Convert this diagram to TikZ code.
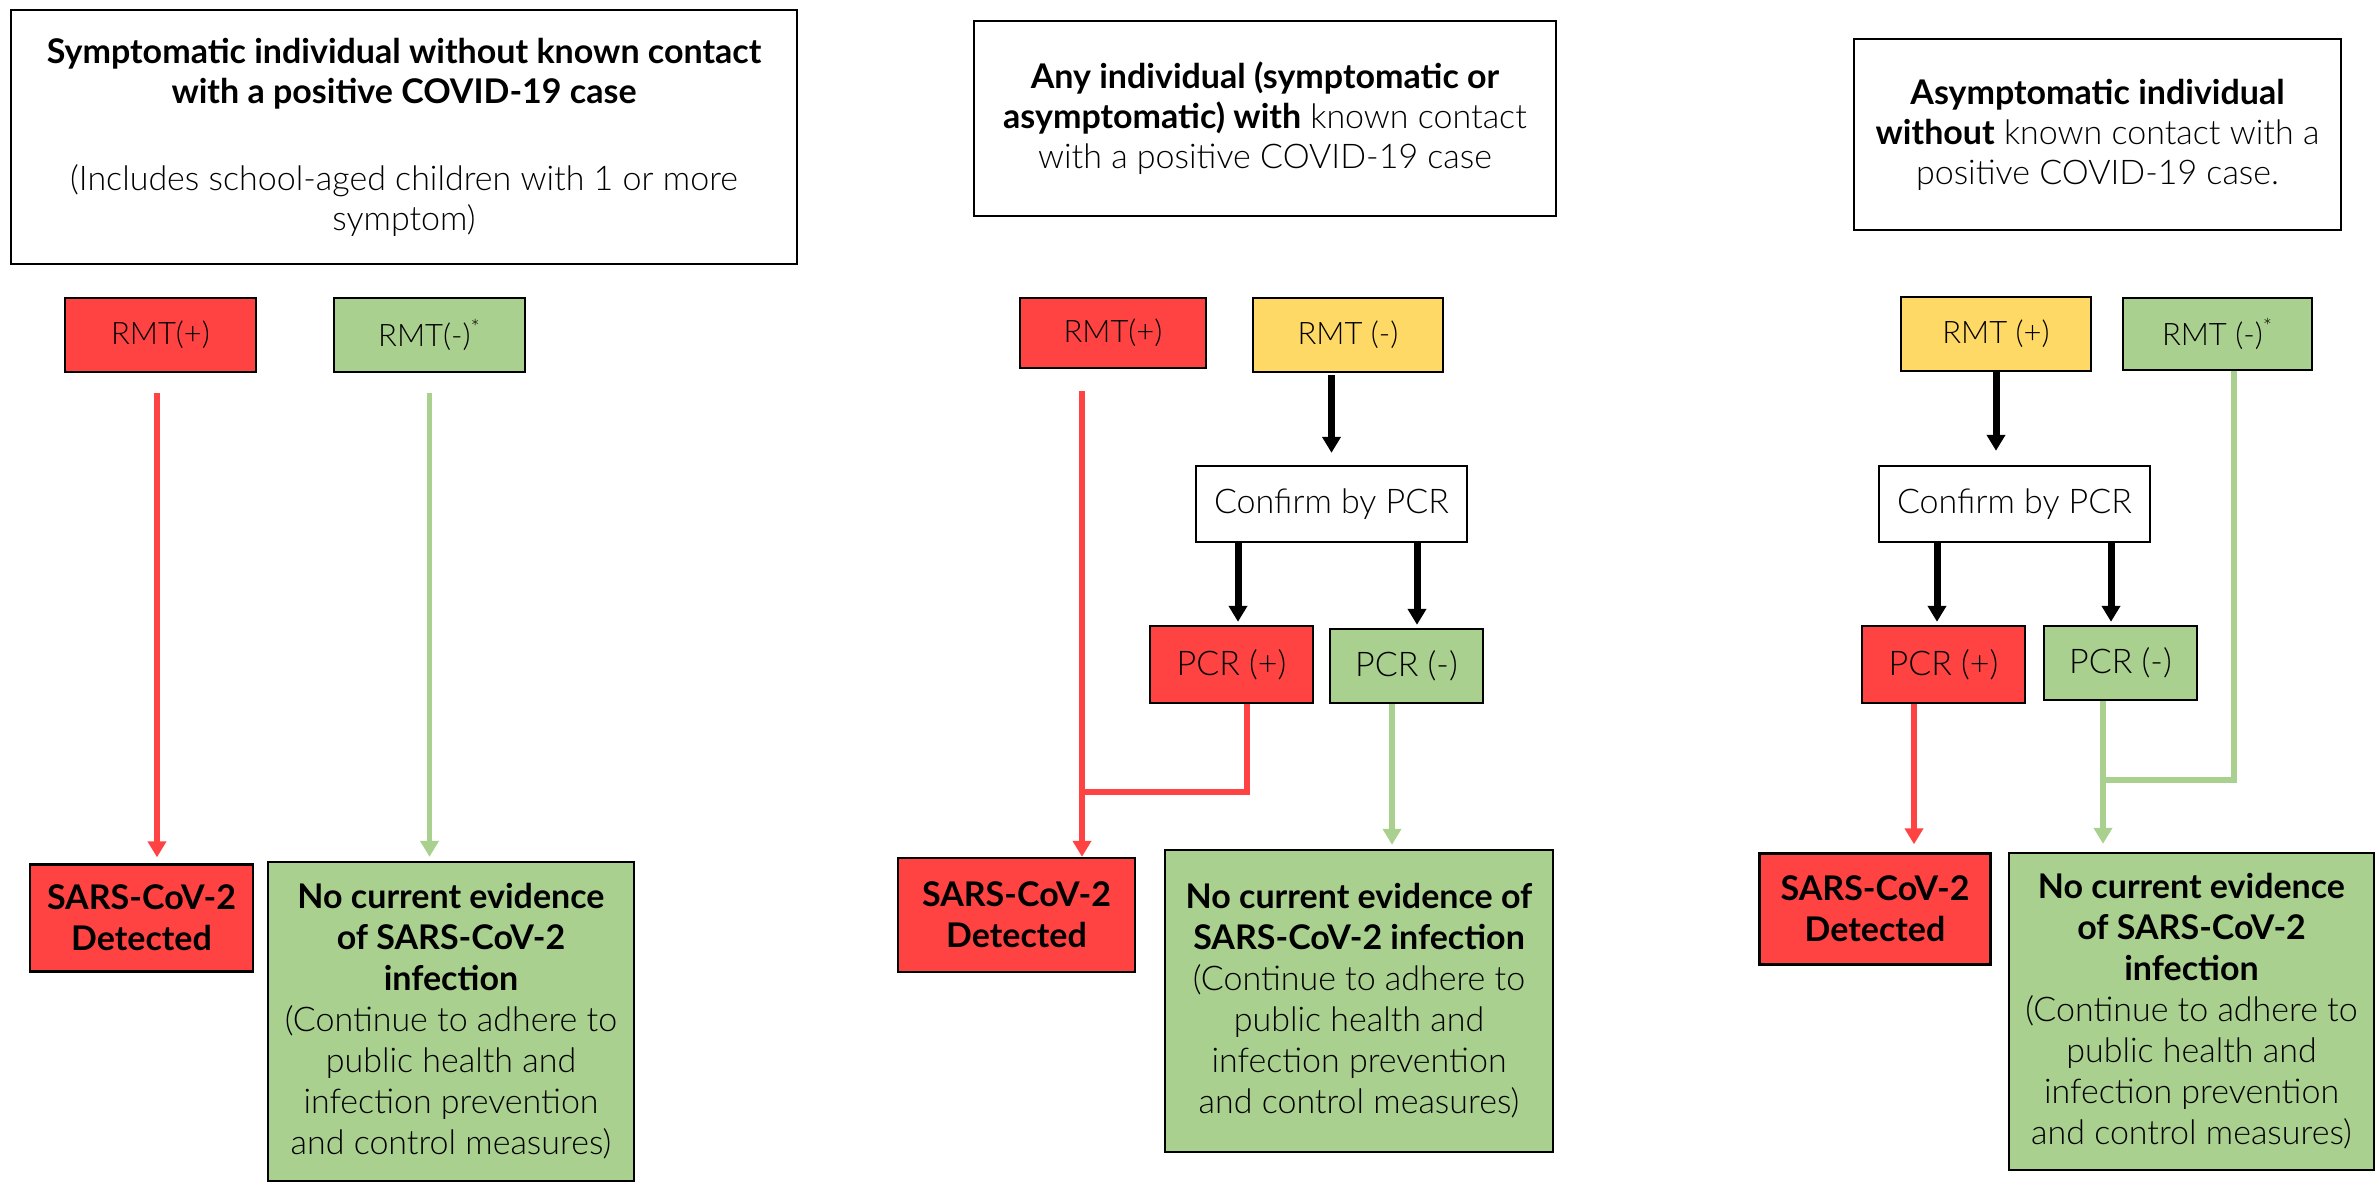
\documentclass[tikz,border=0pt]{standalone}
\usepackage{fontspec}
\IfFontExistsTF{Lato Light}
  {\setmainfont{Lato Light}[BoldFont=Lato Bold]}
  {\setmainfont{Lato}}
\usepackage{tikz}
\usetikzlibrary{arrows.meta}

\definecolor{posred}{RGB}{255,67,67}
\definecolor{neggreen}{RGB}{169,208,142}
\definecolor{warnyellow}{RGB}{255,217,102}

\newcommand{\smalltext}{\fontsize{15.5}{20}\selectfont}
\newcommand{\bigtext}{\fontsize{17}{20.5}\selectfont}
\newcommand{\headtext}{\fontsize{17}{20}\selectfont}

\begin{document}
\begin{tikzpicture}[
      x=0.5pt, y=-0.5pt,
      box/.style={draw=black,line width=1.2pt,inner sep=0pt,align=center,text=black},
      header/.style={box,font=\headtext},
      rmt/.style={box,font=\smalltext},
      test/.style={box,font=\bigtext},
      redbox/.style={fill=posred},
      greenbox/.style={fill=neggreen},
      yellowbox/.style={fill=warnyellow},
      redline/.style={draw=posred,line width=2.8pt},
      greenline/.style={draw=neggreen,line width=2.8pt},
      redarrow/.style={redline,-{Triangle[width=9pt,length=8pt]}},
      greenarrow/.style={greenline,-{Triangle[width=9pt,length=8pt]}},
      blackarrow/.style={draw=black,line width=3.5pt,-{Triangle[width=9pt,length=8pt]}}
    ]
    \useasboundingbox (0,0) rectangle (2379,1185);
    % Symptomatic, no known contact.
    \node[header,minimum width=393pt,minimum height=127pt] (T1) at (404,137)
      {\textbf{Symptomatic individual without known contact}\\
       \textbf{with a positive COVID-19 case}\\[23.5pt]
       (Includes school-aged children with 1 or more\\symptom)};
    \node[rmt,redbox,minimum width=95.5pt,minimum height=37pt] (R1p) at (160.5,335) {RMT(+)};
    \node[rmt,greenbox,minimum width=95.5pt,minimum height=37pt] (R1n) at (429.5,335) {RMT(-)\textsuperscript{*}};
    \node[test,redbox,minimum width=111.5pt,minimum height=53.5pt] (D1) at (141.5,918)
      {\textbf{SARS-CoV-2}\\\textbf{Detected}};
    \node[test,greenbox,minimum width=183pt,minimum height=159.5pt] (N1) at (451,1021.5)
      {\textbf{No current evidence}\\\textbf{of SARS-CoV-2}\\\textbf{infection}\\
       (Continue to adhere to\\public health and\\infection prevention\\and control measures)};
    \draw[redarrow,shorten <=10pt,shorten >=3pt] ([xshift=-1.75pt]R1p.south) -- ([xshift=-1.75pt]R1p.south |- D1.north);
    \draw[greenarrow,shorten <=10pt,shorten >=2pt] (R1n.south) -- (R1n.south |- N1.north);

    % Any individual with known contact.
    \node[header,minimum width=291pt,minimum height=97.5pt] (T2) at (1265,118.5)
      {\textbf{Any individual (symptomatic or}\\
       \textbf{asymptomatic) with} known contact\\with a positive COVID-19 case};
    \node[rmt,redbox,minimum width=93pt,minimum height=35pt] (R2p) at (1113,333) {RMT(+)};
    \node[rmt,yellowbox,minimum width=95pt,minimum height=37pt] (R2n) at (1348,335) {RMT (-)};
    \node[test,minimum width=135.5pt,minimum height=38pt] (C2) at (1331.5,504) {Confirm by PCR};
    \node[test,redbox,minimum width=81.5pt,minimum height=38.5pt] (P2p) at (1231.5,664.5) {PCR (+)};
    \node[test,greenbox,minimum width=76.5pt,minimum height=37pt] (P2n) at (1406.5,666) {PCR (-)};
    \node[test,redbox,minimum width=118.5pt,minimum height=57pt] (D2) at (1016.5,915)
      {\textbf{SARS-CoV-2}\\\textbf{Detected}};
    \node[test,greenbox,minimum width=194pt,minimum height=151pt] (N2) at (1359,1001)
      {\textbf{No current evidence of}\\\textbf{SARS-CoV-2 infection}\\
       (Continue to adhere to\\public health and\\infection prevention\\and control measures)};
    \coordinate (J2) at (1082,792);
    \draw[blackarrow,shorten <=1pt,shorten >=6pt] (R2n.south -| C2.north) -- (C2.north);
    \draw[blackarrow,shorten >=1.5pt] ([xshift=3.25pt]P2p.north |- C2.south) -- ([xshift=3.25pt]P2p.north);
    \draw[blackarrow,shorten >=1.5pt] ([xshift=5.25pt]P2n.north |- C2.south) -- ([xshift=5.25pt]P2n.north);
    \draw[redarrow,shorten <=11pt] ([xshift=-15.5pt]R2p.south) -- ([xshift=-15.5pt]R2p.south |- D2.north);
    \draw[redline] ([xshift=7.75pt]P2p.south) |- (J2);
    \draw[greenarrow,shorten >=2pt] ([xshift=-7.25pt]P2n.south) -- ([xshift=-7.25pt]P2n.south |- N2.north);

    % Asymptomatic, no known contact.
    \node[header,minimum width=243.5pt,minimum height=95.5pt] (T3) at (2097.5,134.5)
      {\textbf{Asymptomatic individual}\\
       \textbf{without} known contact with a\\positive COVID-19 case.};
    \node[rmt,yellowbox,minimum width=95pt,minimum height=37pt] (R3p) at (1996,334) {RMT (+)};
    \node[rmt,greenbox,minimum width=94.5pt,minimum height=36pt] (R3n) at (2217.5,334) {RMT (-)\textsuperscript{*}};
    \node[test,minimum width=135.5pt,minimum height=38pt] (C3) at (2014.5,504) {Confirm by PCR};
    \node[test,redbox,minimum width=81.5pt,minimum height=38.5pt] (P3p) at (1943.5,664.5) {PCR (+)};
    \node[test,greenbox,minimum width=76.5pt,minimum height=37pt] (P3n) at (2120.5,663) {PCR (-)};
    \node[test,redbox,minimum width=115.5pt,minimum height=55.5pt] (D3) at (1875,909)
      {\textbf{SARS-CoV-2}\\\textbf{Detected}};
    \node[test,greenbox,minimum width=182.5pt,minimum height=158.5pt] (N3) at (2191.5,1011.5)
      {\textbf{No current evidence}\\\textbf{of SARS-CoV-2}\\\textbf{infection}\\
       (Continue to adhere to\\public health and\\infection prevention\\and control measures)};
    \coordinate (J3) at (2103,780);
    \draw[blackarrow,shorten >=7pt] (R3p.south) -- (R3p.south |- C3.north);
    \draw[blackarrow,shorten >=1.5pt] ([xshift=-3.25pt]P3p.north |- C3.south) -- ([xshift=-3.25pt]P3p.north);
    \draw[blackarrow,shorten >=1.5pt] ([xshift=-4.75pt]P3n.north |- C3.south) -- ([xshift=-4.75pt]P3n.north);
    \draw[redarrow,shorten >=4pt] ([xshift=-14.75pt]P3p.south) -- ([xshift=-14.75pt]P3p.south |- D3.north);
    \draw[greenline] ([xshift=8.25pt]R3n.south) |- (J3);
    \draw[greenarrow,shorten >=4pt] ([xshift=-8.75pt]P3n.south) -- ([xshift=-8.75pt]P3n.south |- N3.north);
\end{tikzpicture}
\end{document}
